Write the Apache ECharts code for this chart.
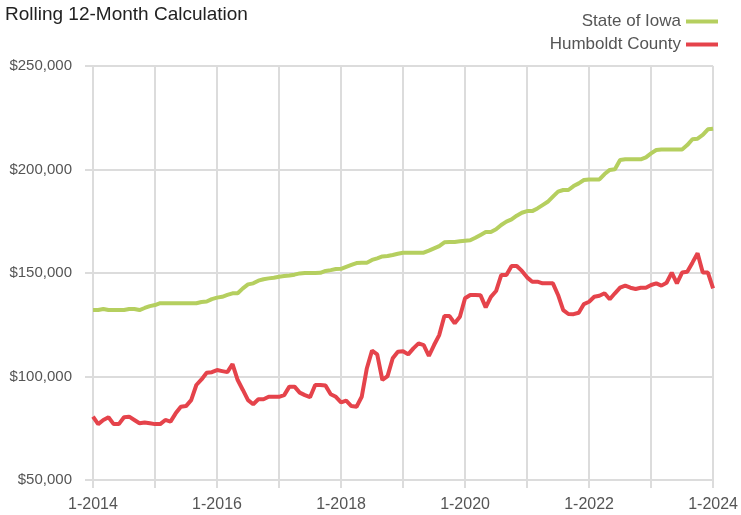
<!DOCTYPE html>
<html><head><meta charset="utf-8">
<script src="https://cdn.jsdelivr.net/npm/echarts@6/dist/echarts.min.js"></script>
<style>html,body{margin:0;padding:0;background:#fff}#c{width:741px;height:515px}</style>
</head><body><div id="c"></div>
<script>
const title = 'Rolling 12-Month Calculation';
const seriesNames = ['State of Iowa', 'Humboldt County'];
const startYear = 2014, monthCount = 121;
const yTicks = [50000, 100000, 150000, 200000, 250000];

const iowa = [
132.1,132.1,132.6,132.1,132.1,132.1,132.1,132.6,132.6,132.1,133.1,134.0,
134.5,135.4,135.4,135.4,135.4,135.4,135.4,135.4,135.4,136.0,136.2,137.4,
138.1,138.5,139.4,140.2,140.2,142.6,144.5,145.0,146.3,147.0,147.4,147.7,
148.2,148.5,148.8,149.2,149.8,150.0,150.0,150.0,150.1,151.0,151.4,151.9,
152.0,153.0,153.9,154.8,155.0,155.0,156.3,157.1,158.0,158.2,158.7,159.3,
159.8,159.8,159.8,159.8,159.8,160.8,161.9,163.0,164.8,165.0,165.0,165.3,
165.6,165.8,167.0,168.4,169.8,169.8,171.1,173.2,174.8,175.9,177.7,179.1,
179.9,179.9,181.2,182.8,184.4,186.9,189.3,190.1,190.1,192.0,193.3,194.9,
195.2,195.2,195.2,197.8,199.8,200.1,204.6,204.9,204.9,204.9,204.9,205.9,
207.8,209.4,209.7,209.7,209.7,209.7,209.7,211.8,214.6,214.9,216.7,219.4,
219.7
];
const humboldt = [
80.6,77.0,79.0,80.3,77.0,77.0,80.3,80.6,79.0,77.4,77.8,77.4,
77.0,77.0,79.0,78.2,82.2,85.4,85.7,88.6,95.9,98.6,101.8,102.1,
103.1,102.6,102.1,106.0,98.3,93.5,88.6,86.6,89.0,89.0,90.2,90.2,
90.2,91.0,95.1,95.1,92.2,91.0,90.0,95.9,95.9,95.6,91.4,90.2,
87.5,88.3,85.7,85.4,90.2,104.0,112.5,110.7,98.3,100.2,108.8,112.0,
112.2,110.7,113.6,116.0,115.2,109.9,115.2,120.0,129.2,129.2,125.7,128.9,
137.8,139.4,139.4,139.2,133.4,138.5,141.3,149.0,149.0,153.4,153.4,151.0,
147.9,145.8,145.8,145.0,145.0,145.0,139.4,132.1,130.2,130.1,130.8,135.0,
136.1,138.5,139.0,140.2,137.3,140.2,142.9,143.9,142.9,142.3,142.9,142.9,
144.2,145.0,143.9,145.3,150.2,145.0,150.2,150.6,155.0,159.5,150.2,150.2,
142.6
];

const categories = [];
for (let i = 0; i < monthCount; i++) {
  categories.push(((i % 12) + 1) + '-' + (startYear + Math.floor(i / 12)));
}
const toDollars = a => a.map(v => Math.round(v * 1000));

const FONT = '"Liberation Sans Narrow", "Liberation Sans", sans-serif';
const GRID = '#dcdcdc';
const chart = echarts.init(document.getElementById('c'), null, {renderer: 'canvas'});
chart.setOption({
  animation: false,
  backgroundColor: '#fff',
  title: {
    text: title, left: 0, top: 0,
    textStyle: {fontFamily: FONT, fontSize: 19, fontWeight: 'normal', color: '#222'}
  },
  legend: {
    orient: 'vertical', right: 18, top: 8, align: 'right',
    itemWidth: 32, itemHeight: 4, itemGap: 6, icon: 'rect',
    textStyle: {fontFamily: FONT, fontSize: 17, color: '#555'},
    data: seriesNames
  },
  grid: {left: 93, right: 22, top: 66, bottom: 35, containLabel: false},
  xAxis: {
    type: 'category', data: categories, boundaryGap: false,
    axisLine: {show: true, lineStyle: {color: GRID, width: 2}},
    axisTick: {show: true, interval: 11, length: 8, lineStyle: {color: GRID, width: 2}},
    axisLabel: {interval: 23, fontFamily: FONT, fontSize: 16, color: '#555', margin: 17},
    splitLine: {show: true, interval: 11, lineStyle: {color: GRID, width: 2}}
  },
  yAxis: {
    type: 'value', min: yTicks[0], max: yTicks[yTicks.length - 1], interval: 50000,
    axisLine: {show: true, lineStyle: {color: GRID, width: 2}},
    axisTick: {show: true, length: 8, lineStyle: {color: GRID, width: 2}},
    axisLabel: {fontFamily: FONT, fontSize: 15, color: '#555', margin: 21,
      formatter: v => '$' + v.toLocaleString('en-US')},
    splitLine: {show: true, lineStyle: {color: GRID, width: 2}}
  },
  series: [
    {name: seriesNames[0], type: 'line', data: toDollars(iowa), showSymbol: false,
     color: '#b5cf5f', lineStyle: {width: 4, color: '#b5cf5f'}},
    {name: seriesNames[1], type: 'line', data: toDollars(humboldt), showSymbol: false,
     color: '#e5434b', lineStyle: {width: 4, color: '#e5434b'}}
  ]
});
</script></body></html>
